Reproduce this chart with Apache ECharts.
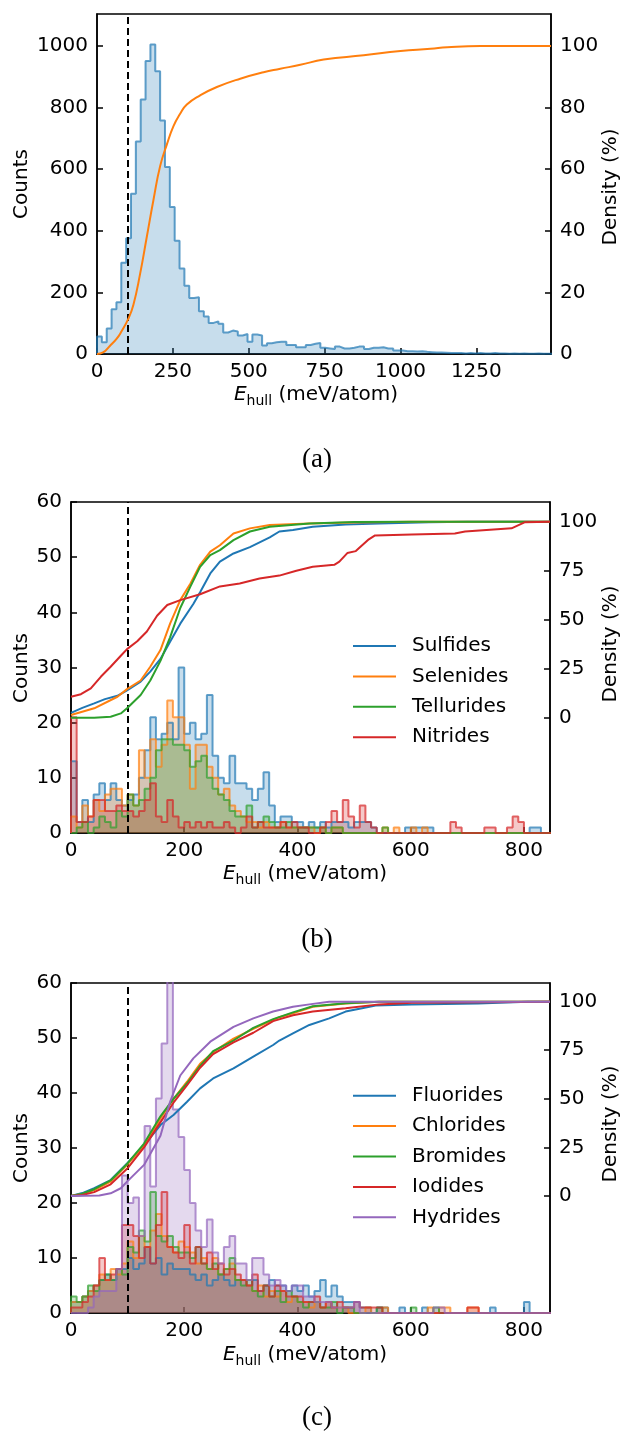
<!DOCTYPE html>
<html><head><meta charset="utf-8">
<script src="https://cdn.jsdelivr.net/npm/echarts@6/dist/echarts.min.js"></script>
<style>html,body{margin:0;padding:0;background:#fff}#c{width:622px;height:1431px}</style>
</head><body><div id="c"></div><script>
// ---------- DATA ----------
const cutoff = 100;
// panel (a)
const binWidthA = 16;
const countsA = [57,38,83,145,168,296,376,520,690,826,
 951,1005,918,758,607,477,368,278,222,182,
 184,139,122,101,106,98,70,76,73,60,
 65,40,63,60,28,35,38,40,40,29,
 29,22,22,29,33,36,20,18,16,24,
 18,18,20,24,24,16,20,20,22,18,
 18,11,11,9,9,8,9,7,6,5,
 5,4,3,3,3,2,3,2,3,2,
 2,3,2,2,1,2,1,2,1,1,
 2,1,1,1];
const cdfA_x = [0,20,43,65,81,103,120,142,164,186,208,230,252,274,296,340,395,472,549,604,670,747,879,1000,1099,1154,1264,1496];
const cdfA_y = [0,0.5,2.7,5,7.4,11.4,16,26,38,50,61,68,74,78,81,84,86.7,89.4,91.5,92.6,93.9,95.6,97,98.4,99.1,99.6,100,100];
const xTicksA = [0,250,500,750,1000,1250];
const yTicksA = [0,200,400,600,800,1000];
const yTicksA2 = [0,20,40,60,80,100];

// panel (b)
const binWidthB = 10;
const namesB = ['Sulfides','Selenides','Tellurides','Nitrides'];
const sulfides = [13,2,6,2,7,9,6,9,6,5, 6,7,10,15,21,17,18,20,17,30, 18,20,17,18,25,14,10,9,14,9, 9,8,6,8,11,5,2,3,3,2, 2,1,2,1,2,1,2,2,2,1, 2,2,2,1,0,0,0,0,0,1, 1,1,1,1,0,0,0,0,0,0, 0,0,0,0,0,0,0,0,0,0, 0,1,1,0,0];
const selenides = [3,1,5,3,6,4,7,8,8,5, 7,5,15,10,17,12,16,24,21,21, 16,8,16,16,12,10,7,8,5,4, 3,2,2,1,2,1,1,2,1,1, 1,1,1,0,1,0,1,1,0,0, 0,0,0,0,0,1,0,1,0,0, 1,0,1,0,0,0,0,0,0,0, 0,0,0,0,0,0,0,0,0,0, 0,0,0,0,0];
const tellurides = [0,1,2,0,1,3,2,1,4,3, 7,5,6,8,10,15,17,17,16,16, 15,12,13,14,10,8,7,6,4,3, 3,5,1,2,3,2,1,1,2,1, 1,1,1,1,1,0,1,1,0,0, 0,0,0,0,0,1,0,0,0,0, 0,0,0,0,0,0,0,0,0,0, 0,0,0,0,0,0,0,0,0,0, 0,0,0,0,0];
const nitrides = [21,2,2,3,6,6,4,4,5,4, 4,3,4,6,9,3,2,6,3,1, 2,1,2,1,2,1,1,2,1,0, 1,3,1,2,1,1,1,2,1,2, 1,1,0,0,1,2,4,2,6,3, 1,5,2,1,0,0,0,0,0,0, 0,0,0,0,0,0,0,2,1,0, 0,0,0,1,1,0,0,1,3,2, 0,0,0,0,0];
const cdfB = [
 [[0,2.5],[20,5],[41,7.3],[60,9.5],[82,11.2],[99,14],[123,18.4],[140,23.5],[158,30],[175,38.8],[193,48],[216,58],[228,64],[246,73.6],[263,79.6],[287,83.8],[316,87],[351,92],[368,95],[392,95.8],[427,97.4],[485,98.6],[544,99.1],[632,99.7],[700,100],[846,100]],
 [[0,1.4],[41,4.8],[82,10.7],[99,14.6],[123,19],[140,26],[158,34.5],[175,48],[193,60],[211,68.5],[228,78],[246,84.7],[263,88],[287,94],[316,96.6],[351,98.3],[421,99.1],[500,99.6],[600,100],[846,100]],
 [[0,0],[41,0],[70,0.5],[88,2.2],[99,4.8],[123,11.6],[140,19],[158,29],[175,41],[193,56],[211,67],[228,77],[246,83],[263,85.5],[287,90.6],[316,95],[351,97.4],[421,99.1],[500,99.8],[600,100],[846,100]],
 [[0,10.7],[17.5,12],[35,15],[53,21],[70,26],[88,31.6],[99,35],[117,39],[134,44],[152,52],[170,57.5],[193,60],[228,63],[263,67],[298,68.5],[333,71],[368,72.5],[398,75],[427,77],[465,78],[474,79.6],[488,84],[503,85],[526,91],[537,93],[602,93.5],[678,94],[696,95],[778,96.6],[801,99.7],[846,100]]
];
const xTicksBC = [0,200,400,600,800];
const yTicksBC = [0,10,20,30,40,50,60];
const yTicksBC2 = [0,25,50,75,100];

// panel (c)
const binWidthC = 10;
const namesC = ['Fluorides','Chlorides','Bromides','Iodides','Hydrides'];
const fluorides = [2,2,3,4,5,6,7,6,8,8, 10,8,9,12,9,10,7,9,8,8, 8,7,6,7,5,6,7,6,5,6, 6,5,6,4,5,6,5,5,4,5, 4,5,3,4,6,3,5,3,2,2, 2,1,1,0,1,1,0,0,1,0, 0,0,1,0,0,0,0,0,0,0, 0,0,0,0,1,0,0,0,0,0, 2,0,0,0,0];
const chlorides = [2,2,3,4,5,7,6,8,7,9, 13,10,14,12,15,18,14,12,11,13, 12,11,9,10,8,10,7,8,9,6, 6,5,4,5,3,4,3,4,2,3, 2,2,1,2,1,2,1,1,1,0, 0,0,1,0,0,1,0,0,0,0, 0,0,0,1,0,1,1,0,0,0, 1,1,0,0,0,0,0,0,0,0, 0,0,0,0,0];
const bromides = [3,2,3,5,4,6,7,6,8,7, 12,11,15,13,22,14,13,14,12,11, 11,10,12,9,8,9,7,8,10,6, 5,6,4,3,5,3,4,2,4,3, 2,1,2,2,1,1,2,0,1,1, 0,0,0,0,1,0,0,0,0,0, 1,0,0,0,1,0,0,0,0,0, 0,0,0,0,0,0,0,0,0,0, 0,0,0,0,0];
const iodides = [1,1,2,3,5,10,6,7,8,16, 16,14,10,12,9,16,22,12,11,10, 16,9,12,9,11,8,9,7,8,7, 6,5,7,4,5,3,5,4,3,3, 3,2,2,3,1,2,1,2,1,1, 2,1,1,1,1,0,0,0,0,0, 0,0,0,0,0,0,0,0,0,0, 1,1,0,0,0,0,0,0,0,0, 0,0,0,0,0];
const hydrides = [0,0,0,1,3,4,4,4,8,25, 20,21,14,34,23,39,49,62,37,32, 26,20,15,12,17,11,9,12,14,9, 9,6,10,10,7,5,6,5,4,5, 5,3,3,2,2,2,1,1,1,1, 2,0,0,0,0,0,0,0,0,0, 0,0,0,0,1,1,0,0,0,0, 0,0,0,0,0,0,0,0,0,0, 0,0,0,0,0];
const cdfC = [
 [[0,0],[20,1.5],[41,4],[70,8.2],[99,16.8],[129,26],[158,36.5],[181,41.7],[205,48.5],[228,55.4],[251,60.5],[287,65.7],[322,71.7],[357,77.7],[368,80],[392,83.7],[421,88],[456,91.4],[485,94.9],[514,96.6],[538,98],[602,98.6],[719,99],[807,100],[846,100]],
 [[0,0],[20,1],[41,3],[70,7.4],[99,16],[129,26],[158,40],[181,50],[205,58.8],[228,68],[251,74],[287,81],[322,86],[357,90.6],[368,92],[392,94],[427,97.4],[485,99],[544,100],[846,100]],
 [[0,0],[20,1.2],[41,3.5],[70,8],[99,16.5],[129,27],[158,41],[181,50],[205,58],[228,67],[251,74.5],[287,80],[322,86.5],[357,91],[392,94.5],[427,97.6],[485,99.2],[544,100],[846,100]],
 [[0,0],[20,0.5],[41,2],[70,6],[99,14],[129,25],[158,38],[181,48],[205,57],[228,66],[251,73],[287,79],[322,84],[357,90],[392,93],[427,94.9],[485,96.6],[544,98.6],[602,99.5],[846,100]],
 [[0,0],[50,0.3],[70,1.4],[88,4],[99,7.4],[129,16],[158,31],[175,48.5],[193,62],[216,70.8],[246,79.4],[287,87],[322,91.4],[357,94.9],[392,97.4],[421,98.6],[456,100],[846,100]]
];

// ---------- BUILD ----------
const COLORS = ['#1f77b4','#ff7f0e','#2ca02c','#d62728','#9467bd'];
const FONT = 'DejaVu Sans';
function histPts(counts, w){
  const p = [[0,0]];
  counts.forEach((c,i)=>p.push([i*w,c]));
  p.push([counts.length*w, counts[counts.length-1]]);
  p.push([counts.length*w, 0]);
  return p;
}
function histSeries(name, counts, w, color, xi, yi){
  return {type:'line', name:name+' hist', xAxisIndex:xi, yAxisIndex:yi, step:'end', symbol:'none',
    data:histPts(counts,w), silent:true, z:2,
    lineStyle:{color:color, width:2, opacity:0.7}, itemStyle:{color:color},
    areaStyle:{color:color, opacity:0.25}};
}
function cdfSeries(name, pts, color, xi, yi, smooth){
  return {type:'line', name:name, xAxisIndex:xi, yAxisIndex:yi, symbol:'none', showSymbol:false, data:pts, smooth:smooth||false,
    silent:true, z:5, lineStyle:{color:color, width:2}, itemStyle:{color:color}};
}
const vline = {silent:true, symbol:['none','none'], label:{show:false}, animation:false,
  lineStyle:{color:'#000', type:[7,4], width:2}, data:[{xAxis:cutoff}]};

const fmt = v => String(v);
function xAx(gi, max, ticks){
  return {gridIndex:gi, type:'value', min:0, max:max,
    axisLine:{show:true, onZero:false, lineStyle:{color:'#000', width:1.5}},
    axisTick:{show:true, inside:true, length:6, lineStyle:{color:'#000', width:1.5}, customValues:ticks},
    axisLabel:{customValues:ticks, formatter:fmt, fontSize:20, fontFamily:FONT, color:'#000', margin:8},
    splitLine:{show:false}};
}
function yAx(gi, min, max, ticks, pos){
  return {gridIndex:gi, type:'value', min:min, max:max, position:pos,
    axisLine:{show:true, onZero:false, lineStyle:{color:'#000', width:1.5}},
    axisTick:{show:true, inside:true, length:6, lineStyle:{color:'#000', width:1.5}, customValues:ticks},
    axisLabel:{customValues:ticks, formatter:fmt, fontSize:20, fontFamily:FONT, color:'#000', margin:9},
    splitLine:{show:false}};
}

const series = [];
// (a)
series.push(histSeries('All', countsA, binWidthA, COLORS[0], 0, 0));
const cA = cdfSeries('CDF', cdfA_x.map((x,i)=>[x,cdfA_y[i]]), COLORS[1], 0, 1, 0.5);
cA.markLine = vline;
series.push(cA);
// (b)
[sulfides, selenides, tellurides, nitrides].forEach((c,i)=>series.push(histSeries(namesB[i], c, binWidthB, COLORS[i], 1, 2)));
namesB.forEach((n,i)=>{ const s = cdfSeries(n, cdfB[i], COLORS[i], 1, 3); if(i===0) s.markLine = vline; series.push(s); });
// (c)
[fluorides, chlorides, bromides, iodides, hydrides].forEach((c,i)=>series.push(histSeries(namesC[i], c, binWidthC, COLORS[i], 2, 4)));
namesC.forEach((n,i)=>{ const s = cdfSeries(n, cdfC[i], COLORS[i], 2, 5); if(i===0) s.markLine = vline; series.push(s); });

const gridStyle = {show:true, borderColor:'#000', borderWidth:1.5, backgroundColor:'transparent'};
function legendCfg(names, top){
  return {data:names, orient:'vertical', left:353, top:top, padding:0, icon:'rect', itemWidth:43, itemHeight:2, itemGap:10.4,
    selectedMode:false, textStyle:{fontSize:20, fontFamily:FONT, color:'#000', lineHeight:20, padding:[0,0,0,11]}};
}
function txt(x, y, text, rot){
  return {type:'text', x:x, y:y, rotation:rot||0, silent:true,
    style:{text:text, fontSize:20, fontFamily:FONT, fill:'#000', align:'center', verticalAlign:'middle'}};
}
function ehull(x, y){
  return {type:'text', x:x, y:y, silent:true, style:{
    text:'{i|E}{s|hull}{n| (meV/atom)}', align:'center', verticalAlign:'middle', fill:'#000',
    rich:{ i:{fontSize:20, fontStyle:'italic', fontFamily:FONT, lineHeight:26, verticalAlign:'middle'},
           s:{fontSize:14, fontFamily:FONT, lineHeight:14, verticalAlign:'bottom'},
           n:{fontSize:20, fontFamily:FONT, lineHeight:26, verticalAlign:'middle'} }}};
}
function cap(x, y, t){
  return {type:'text', x:x, y:y, silent:true, style:{text:t, fontSize:27, fontFamily:'Liberation Serif', fill:'#000', align:'center', verticalAlign:'middle'}};
}

const option = {
  animation:false,
  backgroundColor:'#fff',
  grid:[
    Object.assign({left:97, top:14, width:454, height:340}, gridStyle),
    Object.assign({left:71, top:502, width:479, height:331}, gridStyle),
    Object.assign({left:71, top:983, width:479, height:330}, gridStyle)
  ],
  xAxis:[ xAx(0,1496,xTicksA), xAx(1,846,xTicksBC), xAx(2,846,xTicksBC) ],
  yAxis:[
    yAx(0,0,1104,yTicksA,'left'), yAx(0,0,110.4,yTicksA2,'right'),
    yAx(1,0,60,yTicksBC,'left'), yAx(1,-58.8,110.05,yTicksBC2,'right'),
    yAx(2,0,60,yTicksBC,'left'), yAx(2,-60.2,109.6,yTicksBC2,'right')
  ],
  legend:[ legendCfg(namesB, 636), legendCfg(namesC, 1085.7) ],
  graphic:[
    txt(22,184,'Counts',Math.PI/2), txt(611,187,'Density (%)',Math.PI/2), ehull(316,395), cap(317,460,'(a)'),
    txt(22,668,'Counts',Math.PI/2), txt(611,644,'Density (%)',Math.PI/2), ehull(305,874), cap(317,940,'(b)'),
    txt(22,1148,'Counts',Math.PI/2), txt(611,1124,'Density (%)',Math.PI/2), ehull(305,1355), cap(317,1418,'(c)')
  ],
  series:series
};
const chart = echarts.init(document.getElementById('c'), null, {renderer:'canvas'});
chart.setOption(option);
</script></body></html>
